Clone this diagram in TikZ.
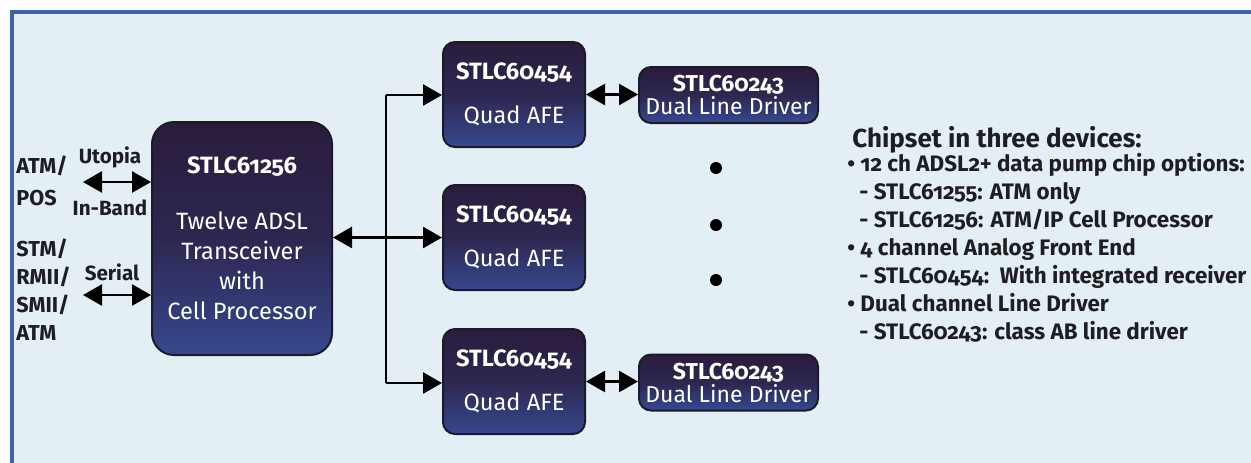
\documentclass[tikz,border=0pt]{standalone}
\usepackage{fontspec}
\setmainfont{Fira Sans}[Numbers=OldStyle]
\usetikzlibrary{arrows.meta,calc}
\definecolor{bgpanel}{HTML}{E4EFF5}
\definecolor{framebl}{HTML}{3D66AA}
\definecolor{chiptop}{HTML}{2A1C3C}
\definecolor{chipbot}{HTML}{36488F}
\definecolor{chipedge}{HTML}{1C1A2A}
\definecolor{inktext}{HTML}{1E1E22}
\begin{document}
\begin{tikzpicture}[x=0.5pt, y=-0.5pt,
  chip/.style={draw=chipedge, line width=1pt, top color=chiptop, bottom color=chipbot,
    middle color=chiptop!75!chipbot, text=white, align=center, inner sep=0pt},
  afe/.style={chip, rounded corners=6pt, minimum width=71pt, minimum height=52.5pt,
    font=\fontsize{11.8}{15}\selectfont},
  drv/.style={chip, rounded corners=6pt, minimum width=89.5pt, minimum height=28pt,
    font=\fontsize{11.5}{11.5}\selectfont},
  lab/.style={font=\fontsize{10.3}{14}\selectfont\bfseries, text=inktext, inner sep=0pt},
  link/.style={line width=1.3pt, {Triangle[length=9.5pt,width=10.5pt]}-{Triangle[length=9.5pt,width=10.5pt]}},
  feed/.style={line width=1.3pt, -{Triangle[length=9.5pt,width=10.5pt]}},
  dot/.style={circle, fill=black, inner sep=0pt, minimum size=6pt}]
\useasboundingbox (0,0) rectangle (1251,462);
% ---------------- panel ----------------
\draw[framebl, line width=2pt, fill=bgpanel] (12,12) rectangle (1264,476);
% ---------------- chips ----------------
\node[chip, rounded corners=11pt, minimum width=90pt, minimum height=116.5pt,
  font=\fontsize{11.8}{15}\selectfont] (proc) at (242,238.5)
  {\bfseries STLC61256\\[13pt] Twelve ADSL\\ Transceiver\\ with\\ Cell Processor};
\node[afe] (afeA) at (514,94.5) {\bfseries STLC60454\\[7pt] Quad AFE};
\node[afe] (afeB) at (514,237.5) {\bfseries STLC60454\\[7pt] Quad AFE};
\node[afe] (afeC) at (514,381.5) {\bfseries STLC60454\\[7pt] Quad AFE};
\node[drv] (drvA) at (728.5,95) {\bfseries STLC60243\\ Dual Line Driver};
\node[drv] (drvC) at (728.5,382.5) {\bfseries STLC60243\\ Dual Line Driver};
\node[dot] (dotA) at (716,168) {};
\node[dot] (dotB) at (716,225) {};
\node[dot] (dotC) at (716,280) {};
% ---------------- bus ----------------
\coordinate (busT) at (386,95);
\coordinate (busB) at (386,383);
\draw[line width=1pt] (busT) -- (busB);
\draw[feed] (busT) -- (busT -| afeA.west);
\draw[feed] (busB) -- (busB -| afeC.west);
\draw[link] (proc.east |- afeB.west) -- (afeB.west);
\draw[link] (afeA.east) -- (afeA.east -| drvA.west);
\draw[link] (afeC.east) -- (afeC.east -| drvC.west);
% ---------------- host side ----------------
\coordinate (utoL) at (83,182);
\coordinate (serL) at (83,295);
\draw[link] (utoL) -- (utoL -| proc.west);
\draw[link] (serL) -- (serL -| proc.west);
\node[lab, anchor=west, align=left, font=\fontsize{10.8}{16}\selectfont\bfseries]
  (atmpos) at (16,181) {ATM/\\POS};
\node[lab, anchor=west, align=left, font=\fontsize{10.8}{14}\selectfont\bfseries]
  (stmif) at (16,290) {STM/\\RMII/\\SMII/\\ATM};
\node[lab] (utopia) at (110,157) {Utopia};
\node[lab] (inband) at (110,208) {In-Band};
\node[lab] (serial) at (112,272) {Serial};
% ---------------- device list ----------------
\node[anchor=west, inner sep=0pt, text=inktext,
  font=\fontsize{13}{15}\selectfont\bfseries] (chiphead) at (852,140)
  {Chipset in three devices:};
\node[anchor=north west, align=left, inner sep=0pt, text=inktext,
  font=\fontsize{11.2}{14}\selectfont\bfseries] (chiplist) at (847,153)
  {\textbullet\ 12 ch ADSL2+ data pump chip options:\\
   \hspace*{6pt}- STLC61255: ATM only\\
   \hspace*{6pt}- STLC61256: ATM/IP Cell Processor\\
   \textbullet\ 4 channel Analog Front End\\
   \hspace*{6pt}- STLC60454:\ \ With integrated receiver\\
   \textbullet\ Dual channel Line Driver\\
   \hspace*{6pt}- STLC60243: class AB line driver};
\end{tikzpicture}
\end{document}
